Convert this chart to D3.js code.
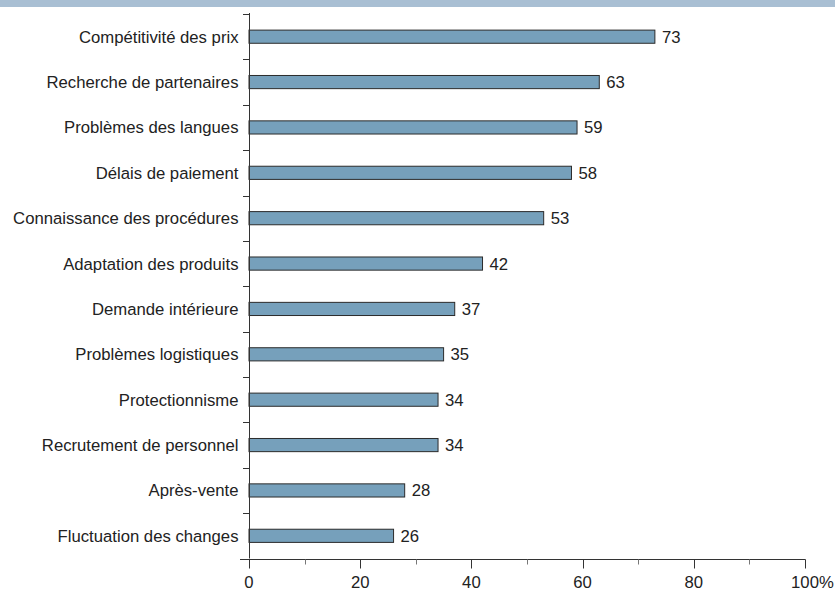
<!DOCTYPE html>
<html>
<head>
<meta charset="utf-8">
<script src="https://cdn.jsdelivr.net/npm/d3@7"></script>
<style>
  html, body { margin: 0; padding: 0; background: #fff; }
  svg { display: block; font-family: "Liberation Sans", Arial, sans-serif; }
</style>
</head>
<body>
<svg id="chart" width="835" height="589"></svg>
<script>
// Obstacles à l'exportation (% des entreprises)
const categories = [
  "Compétitivité des prix",
  "Recherche de partenaires",
  "Problèmes des langues",
  "Délais de paiement",
  "Connaissance des procédures",
  "Adaptation des produits",
  "Demande intérieure",
  "Problèmes logistiques",
  "Protectionnisme",
  "Recrutement de personnel",
  "Après-vente",
  "Fluctuation des changes"
];
const values = [73, 63, 59, 58, 53, 42, 37, 35, 34, 34, 28, 26];
const majorTicks = [0, 20, 40, 60, 80, 100];
const minorTicks = [10, 30, 50, 70, 90];

const svg = d3.select("#chart");
const W = 835, H = 589;
const x0 = 249, x1 = 805, yTop = 14, yBottom = 558.5;
const fontSize = 16.7;
const textColor = "#222";

// Header band
svg.append("rect").attr("x", 0).attr("y", 0).attr("width", W).attr("height", 7)
  .attr("fill", "#a9bfd3");

const x = d3.scaleLinear().domain([0, 100]).range([x0, x1]);
const y = d3.scaleBand().domain(categories).range([yTop, yBottom])
  .paddingInner(0.71).paddingOuter(0.355);
const step = y.step();

const axisColor = "#333";

// Bars
svg.append("g").selectAll("rect").data(values).join("rect")
  .attr("x", x(0))
  .attr("y", (d, i) => y(categories[i]))
  .attr("width", d => x(d) - x(0))
  .attr("height", y.bandwidth())
  .attr("fill", "#76a0bb")
  .attr("stroke", "#2b2b2b")
  .attr("stroke-width", 1);

// Value labels
svg.append("g").selectAll("text").data(values).join("text")
  .attr("x", d => x(d) + 7)
  .attr("y", (d, i) => y(categories[i]) + y.bandwidth() / 2)
  .attr("dy", "0.36em")
  .attr("font-size", fontSize)
  .attr("fill", textColor)
  .text(d => d);

// Category labels
svg.append("g").selectAll("text").data(categories).join("text")
  .attr("x", 238.5)
  .attr("y", d => y(d) + y.bandwidth() / 2)
  .attr("dy", "0.36em")
  .attr("text-anchor", "end")
  .attr("font-size", fontSize)
  .attr("fill", textColor)
  .text(d => d);

// Y axis line and separator ticks between categories
svg.append("line")
  .attr("x1", x0 + 0.5).attr("x2", x0 + 0.5)
  .attr("y1", yTop - 1).attr("y2", yBottom)
  .attr("stroke", axisColor);
const bounds = d3.range(categories.length).map(i => yTop + i * step);
svg.append("g").selectAll("line").data(bounds).join("line")
  .attr("x1", x0 - 6).attr("x2", x0 + 0.5)
  .attr("y1", d => Math.round(d) + 0.5).attr("y2", d => Math.round(d) + 0.5)
  .attr("stroke", axisColor);

// X axis
const xAxis = svg.append("g").attr("transform", `translate(0,${Math.round(yBottom) + 0.5})`);
xAxis.append("line").attr("x1", 240).attr("x2", x1 + 0.5).attr("stroke", axisColor);
xAxis.selectAll("line.major").data(majorTicks).join("line").attr("class", "major")
  .attr("x1", d => Math.round(x(d)) + 0.5).attr("x2", d => Math.round(x(d)) + 0.5)
  .attr("y1", 0).attr("y2", 9).attr("stroke", axisColor);
xAxis.selectAll("line.minor").data(minorTicks).join("line").attr("class", "minor")
  .attr("x1", d => Math.round(x(d)) + 0.5).attr("x2", d => Math.round(x(d)) + 0.5)
  .attr("y1", 0).attr("y2", 5).attr("stroke", "#777");

// Tick labels: the number is centred on its tick, the "%" sign trails the last one
xAxis.selectAll("text").data(majorTicks).join("text")
  .attr("y", 28.5)
  .attr("font-size", fontSize)
  .attr("fill", textColor)
  .each(function (d) {
    const t = d3.select(this).attr("text-anchor", "start").text(d);
    const w = this.getComputedTextLength();
    t.attr("x", x(d) - w / 2);
    if (d === 100) t.text(d + "%");
  });
</script>
</body>
</html>
